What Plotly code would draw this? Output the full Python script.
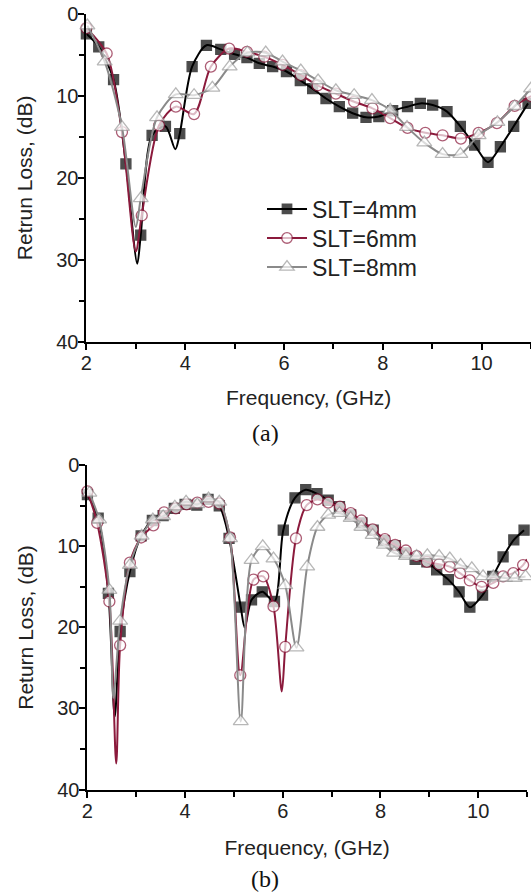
import plotly.graph_objects as go

# ---------------- data: panel (a) ----------------
a_f_4mm = [2.0, 2.25, 2.55, 2.8, 3.03, 3.1, 3.33, 3.6, 3.8, 3.89, 4.14, 4.43, 4.72, 5.0, 5.25, 5.5, 5.77,
           6.05, 6.33, 6.58, 6.85, 7.12, 7.39, 7.66, 7.92, 8.2, 8.5, 8.76, 9.01, 9.3, 9.57, 9.86, 10.13,
           10.38, 10.65, 10.94]
a_db_4mm = [2.4, 4.0, 8.0, 18.3, 30.5, 27.0, 14.8, 13.7, 16.5, 14.6, 6.4, 3.8, 4.3, 4.9, 5.3, 6.0, 6.4,
            7.0, 8.1, 9.1, 10.3, 11.3, 12.1, 12.6, 12.5, 11.8, 11.3, 10.9, 11.1, 11.9, 13.7, 16.0, 18.1,
            16.2, 13.7, 10.9]
a_nomark_4mm = [3.03, 3.8]

a_f_6mm = [2.0, 2.41, 2.72, 3.0, 3.12, 3.47, 3.81, 4.18, 4.52, 4.89, 5.25, 5.6, 5.97, 6.34, 6.68, 7.05,
           7.42, 7.79, 8.15, 8.5, 8.86, 9.21, 9.58, 9.94, 10.31, 10.67, 11.0]
a_db_6mm = [1.7, 4.8, 14.4, 29.0, 24.6, 13.6, 11.3, 12.2, 6.4, 4.2, 4.6, 5.2, 6.2, 7.45, 8.7, 9.7,
            10.7, 11.5, 12.7, 13.9, 14.5, 14.8, 15.2, 14.5, 13.3, 11.2, 10.0]
a_nomark_6mm = [3.0]

a_f_8mm = [2.02, 2.37, 2.72, 3.0, 3.1, 3.43, 3.81, 4.18, 4.55, 4.9, 5.26, 5.63, 5.97, 6.34, 6.69, 7.05,
           7.42, 7.78, 8.15, 8.49, 8.84, 9.21, 9.57, 9.94, 10.32, 10.67, 11.0]
a_db_8mm = [1.4, 5.8, 13.8, 26.0, 22.5, 12.6, 9.8, 9.9, 9.0, 6.4, 4.7, 4.7, 5.8, 6.9, 8.1, 9.3,
            9.9, 10.5, 11.7, 13.8, 15.7, 17.1, 17.1, 14.8, 13.2, 11.25, 9.1]
a_nomark_8mm = [3.0]

# ---------------- data: panel (b) ----------------
b_f_4mm = [2.0, 2.22, 2.43, 2.56, 2.67, 2.87, 3.1, 3.33, 3.55, 3.78, 4.0, 4.24, 4.47, 4.7, 4.9, 5.14,
           5.22, 5.36, 5.58, 5.83, 6.01, 6.25, 6.47, 6.7, 6.93, 7.16, 7.39, 7.62, 7.85, 8.07, 8.3, 8.5,
           8.71, 8.95, 9.15, 9.39, 9.61, 9.83, 10.09, 10.3, 10.51, 10.73, 10.94]
b_db_4mm = [3.6, 6.5, 15.8, 31.0, 20.5, 13.1, 8.7, 6.8, 6.2, 5.3, 4.8, 4.9, 4.2, 5.0, 9.0, 17.5,
            20.0, 16.6, 15.6, 16.8, 8.0, 4.0, 3.0, 3.5, 4.3, 5.1, 6.1, 7.1, 8.0, 9.3, 9.9, 10.8,
            11.6, 11.9, 12.9, 14.1, 15.6, 17.5, 16.0, 13.7, 11.3, 9.2, 8.0]
b_nomark_4mm = [2.56, 5.22]

b_f_6mm = [2.0, 2.2, 2.45, 2.59, 2.67, 2.87, 3.1, 3.35, 3.57, 3.81, 4.03, 4.25, 4.48, 4.7, 4.92, 5.13,
           5.4, 5.6, 5.81, 5.98, 6.05, 6.27, 6.49, 6.71, 6.93, 7.17, 7.39, 7.61, 7.84, 8.09, 8.3, 8.52,
           8.74, 8.95, 9.2, 9.42, 9.63, 9.83, 10.07, 10.31, 10.51, 10.72, 10.92, 11.0]
b_db_6mm = [3.2, 7.1, 16.8, 36.8, 22.2, 12.0, 8.9, 7.4, 5.8, 5.3, 4.8, 4.6, 4.5, 4.7, 8.9, 25.9,
            14.1, 13.7, 17.4, 27.9, 22.4, 9.0, 4.9, 4.2, 4.6, 5.1, 5.9, 6.8, 7.9, 9.1, 9.8, 10.5,
            11.2, 11.9, 12.2, 12.5, 13.3, 14.2, 15.0, 14.5, 13.7, 13.3, 12.3, 11.6]
b_nomark_6mm = [2.59, 5.98, 11.0]

b_f_8mm = [2.04, 2.24, 2.45, 2.53, 2.67, 2.87, 3.11, 3.34, 3.55, 3.79, 4.02, 4.25, 4.48, 4.7, 4.92, 5.14,
           5.36, 5.59, 5.81, 6.05, 6.28, 6.5, 6.71, 6.93, 7.16, 7.39, 7.61, 7.84, 8.07, 8.28, 8.52, 8.74,
           8.96, 9.2, 9.42, 9.64, 9.87, 10.1, 10.31, 10.55, 10.75, 10.97]
b_db_8mm = [3.4, 6.7, 15.4, 28.7, 19.2, 12.3, 8.7, 6.7, 6.3, 5.1, 4.5, 4.8, 4.1, 4.5, 9.0, 31.6,
            11.7, 10.0, 11.5, 14.8, 22.5, 12.5, 7.6, 6.1, 5.9, 6.5, 7.6, 8.6, 9.8, 10.8, 11.2, 11.2,
            11.1, 11.2, 11.5, 12.3, 12.7, 13.7, 13.7, 13.9, 13.9, 13.7]
b_nomark_8mm = [2.53]

series_names = ["SLT=4mm", "SLT=6mm", "SLT=8mm"]
x_tick_vals = [2, 4, 6, 8, 10]
y_tick_vals = [0, 10, 20, 30, 40]

# ---------------- layout geometry (screen px; body margin removed by post_script) ----------------
FW, FH = 531, 894

def sx(p):
    return p / FW

def sy(p):
    return 1 - p / FH

FONT = "Arial, 'Liberation Sans', sans-serif"
styles = [
    dict(color="#000000", symbol="square", fill="#000000", line="#000000", size=10),
    dict(color="#8b1a3c", symbol="circle", fill="#ffffff", line="#8b1a3c", size=11),
    dict(color="#8a8a8a", symbol="triangle-up", fill="#ffffff", line="#9a9a9a", size=13),
]
legend_ids = ["legend", "legend2", "legend3"]
legend_rows = [209, 238, 267]

fig = go.Figure()

panels = [
    ("x", "y", [(a_f_4mm, a_db_4mm, a_nomark_4mm), (a_f_6mm, a_db_6mm, a_nomark_6mm),
                (a_f_8mm, a_db_8mm, a_nomark_8mm)], True),
    ("x2", "y2", [(b_f_4mm, b_db_4mm, b_nomark_4mm), (b_f_6mm, b_db_6mm, b_nomark_6mm),
                  (b_f_8mm, b_db_8mm, b_nomark_8mm)], False),
]

for xa, ya, data, show in panels:
    for (f, db, nomark), st, name, lg in zip(data, styles, series_names, legend_ids):
        sizes = [0 if v in nomark else st["size"] for v in f]
        fig.add_trace(go.Scatter(
            x=f, y=db, xaxis=xa, yaxis=ya, name=name, showlegend=show, legend=lg,
            mode="lines+markers", cliponaxis=False,
            line=dict(color=st["color"], width=2, shape="spline", smoothing=0.8),
            marker=dict(symbol=st["symbol"], size=sizes, color=st["fill"],
                        line=dict(color=st["line"], width=1.3)),
        ))

common_x = dict(range=[2, 11], tickvals=x_tick_vals, ticks="outside", ticklen=6, tickwidth=2,
                showline=True, linecolor="black", linewidth=2, showgrid=False, zeroline=False,
                tickfont=dict(family=FONT, size=20, color="#222"), ticklabelstandoff=-4,
                ticklabeloverflow="allow",
                minor=dict(dtick=1, tick0=0, ticks="outside", ticklen=5, tickwidth=2, tickcolor="black"),
                tickcolor="black", automargin=False)
common_y = dict(range=[40, 0], tickvals=y_tick_vals, ticks="outside", ticklen=6, tickwidth=2,
                showline=True, linecolor="black", linewidth=2, showgrid=False, zeroline=False,
                tickfont=dict(family=FONT, size=20, color="#222"), ticklabelstandoff=-4,
                ticklabeloverflow="allow",
                minor=dict(dtick=5, tick0=0, ticks="outside", ticklen=5, tickwidth=2, tickcolor="black"),
                tickcolor="black", automargin=False)

title_font = dict(family=FONT, size=21, color="#222")
legend_common = dict(xanchor="left", yanchor="middle", font=dict(family=FONT, size=23, color="#222"),
                     bgcolor="rgba(0,0,0,0)", itemsizing="trace", itemwidth=40)

caption_font = dict(family="'Liberation Serif', 'Times New Roman', serif", size=24, color="#111")

fig.update_layout(
    width=FW, height=FH, margin=dict(l=0, r=0, t=0, b=0),
    paper_bgcolor="white", plot_bgcolor="white",
    xaxis=dict(domain=[sx(86.4), 1.0], anchor="y",
               title=dict(text="Frequency, (GHz)", font=title_font, standoff=18), **common_x),
    yaxis=dict(domain=[sy(341.5), sy(14.2)], anchor="x",
               title=dict(text="Retrun Loss, (dB)", font=title_font, standoff=18), **common_y),
    xaxis2=dict(domain=[sx(87.4), sx(527)], anchor="y2",
                title=dict(text="Frequency, (GHz)", font=title_font, standoff=20), **common_x),
    yaxis2=dict(domain=[sy(789.5), sy(465.4)], anchor="x2",
                title=dict(text="Return Loss, (dB)", font=title_font, standoff=18), **common_y),
    legend=dict(x=sx(262), y=sy(legend_rows[0]), **legend_common),
    legend2=dict(x=sx(262), y=sy(legend_rows[1]), **legend_common),
    legend3=dict(x=sx(262), y=sy(legend_rows[2]), **legend_common),
    annotations=[
        dict(text="(a)", x=sx(265), y=sy(433), xref="paper", yref="paper", showarrow=False,
             xanchor="center", yanchor="middle", font=caption_font),
        dict(text="(b)", x=sx(265), y=sy(879), xref="paper", yref="paper", showarrow=False,
             xanchor="center", yanchor="middle", font=caption_font),
    ],
)

fig.write_html("out.html", config={"displayModeBar": False},
               post_script="document.body.style.margin='0';document.body.style.overflow='hidden';")
